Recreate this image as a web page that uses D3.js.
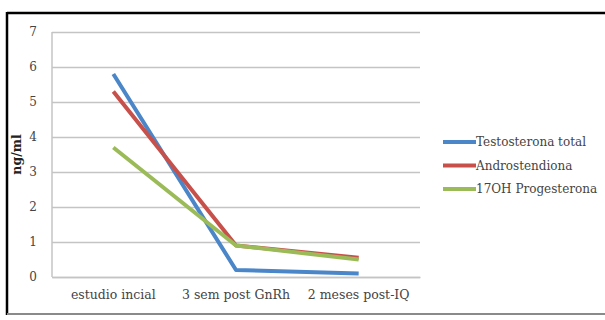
<!DOCTYPE html>
<html>
<head>
<meta charset="utf-8">
<script src="https://cdn.jsdelivr.net/npm/d3@7/dist/d3.min.js"></script>
<style>
  html, body { margin: 0; padding: 0; background: #fff; }
  svg { display: block; }
</style>
</head>
<body>
<svg id="chart" width="605" height="320"></svg>
<script>
// Hormone levels (ng/ml) at three time points
const categories = ["estudio incial", "3 sem post GnRh", "2 meses post-IQ"];
const seriesNames = ["Testosterona total", "Androstendiona", "17OH Progesterona"];
const testosterona = [5.8, 0.2, 0.1];
const androstendiona = [5.3, 0.9, 0.55];
const progesterona17 = [3.7, 0.9, 0.5];
const yTicks = [0, 1, 2, 3, 4, 5, 6, 7];
const colors = ["#4a86c8", "#c8504b", "#9bbb59"];

const seriesValues = [testosterona, androstendiona, progesterona17];
const series = seriesNames.map((name, i) => ({ name, values: seriesValues[i], color: colors[i] }));

const svg = d3.select("#chart");
const font = "DejaVu Serif";

// Outer frame
svg.append("line").attr("x1", 7).attr("x2", 605).attr("y1", 13).attr("y2", 13)
  .attr("stroke", "#000").attr("stroke-width", 2.5);
svg.append("line").attr("x1", 7).attr("x2", 7).attr("y1", 12).attr("y2", 315)
  .attr("stroke", "#000").attr("stroke-width", 2.5);
svg.append("line").attr("x1", 7).attr("x2", 605).attr("y1", 314).attr("y2", 314)
  .attr("stroke", "#8a8a8a").attr("stroke-width", 2);

const plotLeft = 52, plotRight = 420, plotTop = 32, plotBottom = 277;

const x = d3.scaleBand().domain(categories).range([plotLeft, plotRight]);
const y = d3.scaleLinear().domain([0, 7]).range([plotBottom, plotTop]);

// Horizontal gridlines
svg.append("g")
  .attr("transform", `translate(${plotLeft},0)`)
  .call(d3.axisLeft(y).tickValues(yTicks).tickSize(-(plotRight - plotLeft)).tickFormat(""))
  .call(g => g.select(".domain").remove())
  .call(g => g.selectAll(".tick line").attr("stroke", "#c4c4c4").attr("stroke-width", 1.5));

// Y axis line and labels
svg.append("line").attr("x1", plotLeft).attr("x2", plotLeft).attr("y1", plotTop).attr("y2", plotBottom)
  .attr("stroke", "#c4c4c4").attr("stroke-width", 1.5);

svg.append("g")
  .attr("transform", `translate(${plotLeft},0)`)
  .call(d3.axisLeft(y).tickValues(yTicks).tickSize(0).tickPadding(15).tickFormat(d3.format("d")))
  .call(g => g.select(".domain").remove())
  .call(g => g.selectAll("text").attr("font-family", font).attr("font-size", 12).attr("fill", "#444"));

// X axis labels
svg.append("g")
  .attr("transform", `translate(0,${plotBottom})`)
  .call(d3.axisBottom(x).tickSize(0).tickPadding(13))
  .call(g => g.select(".domain").attr("stroke", "#c4c4c4").attr("stroke-width", 1.5))
  .call(g => g.selectAll("text").attr("font-family", font).attr("font-size", 12.5).attr("fill", "#444"));

// Y axis title
svg.append("text")
  .attr("transform", `translate(21,${(plotTop + plotBottom) / 2}) rotate(-90)`)
  .attr("text-anchor", "middle")
  .attr("font-family", font).attr("font-size", 12.5).attr("font-weight", "bold").attr("fill", "#222")
  .text("ng/ml");

// Series lines
const line = d3.line()
  .x((d, i) => x(categories[i]) + x.bandwidth() / 2)
  .y(d => y(d));

svg.append("g").selectAll("path")
  .data(series)
  .join("path")
  .attr("d", d => line(d.values))
  .attr("fill", "none")
  .attr("stroke", d => d.color)
  .attr("stroke-width", 4)
  .attr("stroke-linejoin", "round");

// Legend
const legend = svg.append("g").selectAll("g")
  .data(series)
  .join("g")
  .attr("transform", (d, i) => `translate(443,${142 + i * 23.5})`);
legend.append("line").attr("x1", 0).attr("x2", 33)
  .attr("stroke", d => d.color).attr("stroke-width", 4);
legend.append("text").attr("x", 33).attr("dy", "0.35em")
  .attr("font-family", font).attr("font-size", 12).attr("fill", "#444")
  .text(d => d.name);
</script>
</body>
</html>
